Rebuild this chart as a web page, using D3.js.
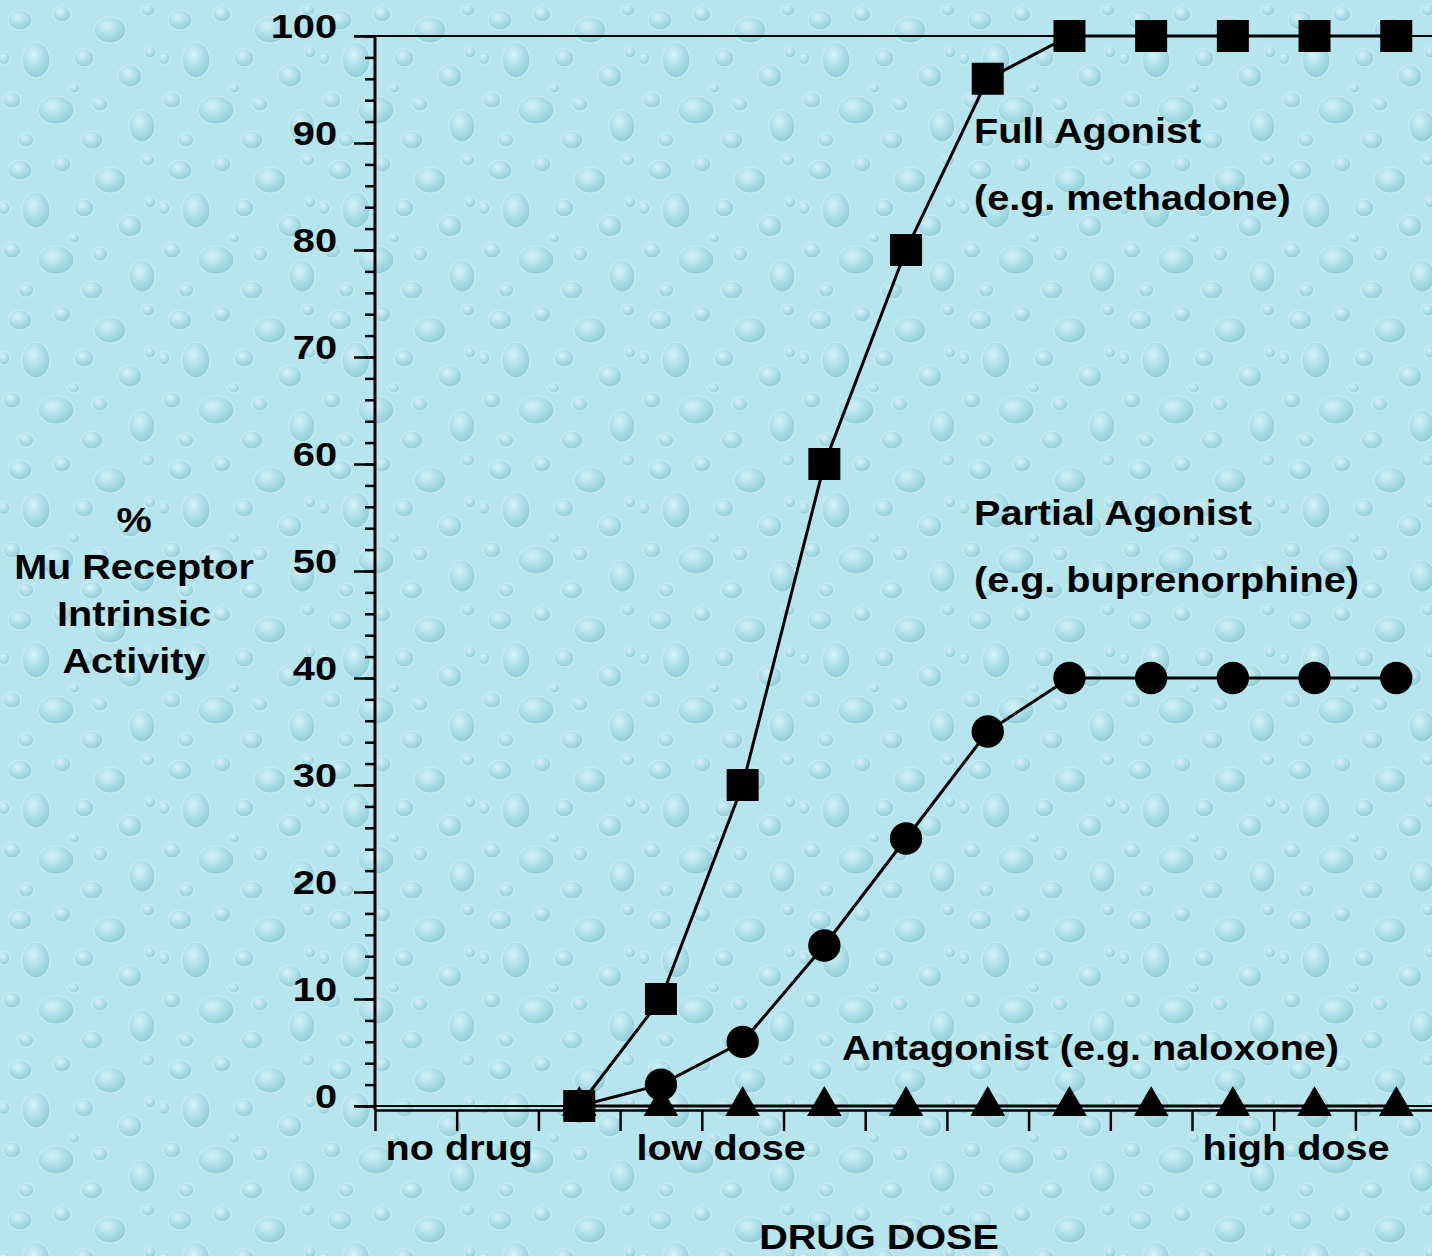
<!DOCTYPE html>
<html>
<head>
<meta charset="utf-8">
<script src="https://cdn.jsdelivr.net/npm/d3@7"></script>
<style>
  html, body { margin: 0; padding: 0; overflow: hidden; }
  svg { display: block; font-family: "Liberation Sans", Arial, sans-serif; font-weight: bold; }
</style>
</head>
<body>
<div id="chart"></div>
<script>
;(function() {
  'use strict';

  // Dose steps (13 bands, drug given from step 2 on)
  var doses = [2, 3, 4, 5, 6, 7, 8, 9, 10, 11, 12];
  var fullAgonist    = [0, 10, 30, 60, 80, 96, 100, 100, 100, 100, 100];
  var partialAgonist = [0, 2, 6, 15, 25, 35, 40, 40, 40, 40, 40];
  var antagonist     = [0, 0, 0, 0, 0, 0, 0, 0, 0, 0, 0];

  var yMajorTicks = [0, 10, 20, 30, 40, 50, 60, 70, 80, 90, 100];
  var doseLabels = [
    {at: 0.13, text: 'no drug'},
    {at: 3.2, text: 'low dose'},
    {at: 10.13, text: 'high dose'}
  ];
  var yTitleLines = ['%', 'Mu Receptor', 'Intrinsic', 'Activity'];

  var width = 1432, height = 1256;
  var x0 = 375, bandW = 81.7;

  var x = d3.scaleLinear().domain([0, 13]).range([x0, x0 + 13 * bandW]);
  var y = d3.scaleLinear().domain([0, 100]).range([1106, 36]);
  var axisY = 1110;

  var svg = d3.select('#chart').append('svg')
      .attr('width', width)
      .attr('height', height);

  // ---- water drop background ----
  var defs = svg.append('defs');
  var grad = defs.append('radialGradient').attr('id', 'drop')
      .attr('cx', '40%').attr('cy', '35%').attr('r', '65%');
  grad.append('stop').attr('offset', '0%').attr('stop-color', '#dbf5f9');
  grad.append('stop').attr('offset', '55%').attr('stop-color', '#abdde7');
  grad.append('stop').attr('offset', '100%').attr('stop-color', '#88c7d5');

  var pat = defs.append('pattern').attr('id', 'drops')
      .attr('patternUnits', 'userSpaceOnUse')
      .attr('width', 160).attr('height', 150);
  pat.append('rect').attr('width', 160).attr('height', 150).attr('fill', '#b6e5ed');
  var dropShapes = [
    [20, 20, 12, 10], [62, 14, 9, 8], [110, 30, 16, 13], [148, 10, 7, 6],
    [36, 60, 14, 18], [84, 58, 10, 9], [130, 76, 12, 11], [12, 100, 9, 8],
    [56, 110, 18, 14], [100, 104, 8, 7], [142, 126, 13, 16], [26, 140, 8, 7],
    [92, 140, 11, 9], [74, 88, 6, 5], [150, 52, 6, 6], [4, 58, 6, 7]
  ];
  pat.selectAll('ellipse').data(dropShapes).enter().append('ellipse')
      .attr('cx', function(d) { return d[0]; })
      .attr('cy', function(d) { return d[1]; })
      .attr('rx', function(d) { return d[2]; })
      .attr('ry', function(d) { return d[3]; })
      .attr('fill', 'url(#drop)')
      .attr('stroke', '#cdf0f5')
      .attr('stroke-width', 1.2)
      .attr('opacity', 0.8);

  svg.append('rect').attr('width', width).attr('height', height).attr('fill', 'url(#drops)');

  // text that is a bit wider than the font (stretched like the original)
  function wideText(parent, px, py, str, size, sx, anchor) {
    parent.append('g')
        .attr('transform', 'translate(' + px + ',' + py + ') scale(' + sx + ',1)')
      .append('text')
        .attr('text-anchor', anchor || 'start')
        .style('font-size', size + 'px')
        .text(str);
  }

  // ---- frame lines at 0 and 100 ----
  svg.selectAll('.frame').data([0, 100]).enter().append('line')
      .attr('x1', x0 - 21).attr('x2', width)
      .attr('y1', function(d) { return y(d); })
      .attr('y2', function(d) { return y(d); })
      .attr('stroke', '#000').attr('stroke-width', 2);

  // ---- y axis ----
  var yMinor = d3.axisLeft(y).tickValues(d3.range(0, 101, 2)).tickSize(10).tickFormat('');
  var yMajor = d3.axisLeft(y).tickValues(yMajorTicks).tickSize(21).tickFormat('');

  var gMinor = svg.append('g').attr('transform', 'translate(' + x0 + ',0)').call(yMinor);
  gMinor.select('.domain').remove();
  gMinor.selectAll('line').attr('stroke-width', 2.5);

  var gY = svg.append('g').attr('transform', 'translate(' + x0 + ',0)').call(yMajor);
  gY.select('.domain').remove();
  gY.selectAll('line').attr('stroke-width', 2.5);

  var gYLab = svg.append('g');
  yMajorTicks.forEach(function(v) {
    wideText(gYLab, x0 - 38, y(v) + 2, String(v), 34, 1.17, 'end');
  });

  svg.append('line')
      .attr('x1', x0).attr('x2', x0)
      .attr('y1', y(100) - 1).attr('y2', axisY)
      .attr('stroke', '#000').attr('stroke-width', 3);

  // ---- x axis ----
  var xAxis = d3.axisBottom(x).tickValues(d3.range(0, 14)).tickSize(21).tickSizeOuter(0).tickFormat('');
  var gX = svg.append('g').attr('transform', 'translate(0,' + axisY + ')').call(xAxis);
  gX.select('.domain').attr('stroke-width', 2.5);
  gX.selectAll('line').attr('stroke-width', 2.5);

  var gDose = svg.append('g');
  doseLabels.forEach(function(d) {
    wideText(gDose, x(d.at), 1160, d.text, 36, 1.1);
  });

  wideText(svg, 879, 1249, 'DRUG DOSE', 36, 1.1, 'middle');

  // ---- y title ----
  var gTitle = svg.append('g');
  yTitleLines.forEach(function(t, i) {
    wideText(gTitle, 134, 532 + i * 47, t, 36, 1.1, 'middle');
  });

  // ---- series ----
  function pts(values) {
    return doses.map(function(d, i) { return [x(d + 0.5), y(values[i])]; });
  }
  var line = d3.line();

  function drawSeries(values, symbol, size) {
    var g = svg.append('g');
    g.append('path')
        .attr('d', line(pts(values)))
        .attr('fill', 'none')
        .attr('stroke', '#000')
        .attr('stroke-width', 3);
    g.selectAll('path.mark').data(pts(values)).enter().append('path')
        .attr('class', 'mark')
        .attr('transform', function(d) { return 'translate(' + d[0] + ',' + d[1] + ')'; })
        .attr('d', d3.symbol().type(symbol).size(size))
        .attr('fill', '#000');
  }

  drawSeries(antagonist, d3.symbolTriangle, 520);
  drawSeries(partialAgonist, d3.symbolCircle, 820);
  drawSeries(fullAgonist, d3.symbolSquare, 1024);

  // ---- annotations ----
  var notes = [
    {x: 974, y: 143, text: 'Full Agonist'},
    {x: 974, y: 210, text: '(e.g. methadone)'},
    {x: 974, y: 525, text: 'Partial Agonist'},
    {x: 974, y: 592, text: '(e.g. buprenorphine)'},
    {x: 842, y: 1060, text: 'Antagonist (e.g. naloxone)'}
  ];
  var gNotes = svg.append('g');
  notes.forEach(function(d) {
    wideText(gNotes, d.x, d.y, d.text, 36, 1.1);
  });
}());
</script>
</body>
</html>
